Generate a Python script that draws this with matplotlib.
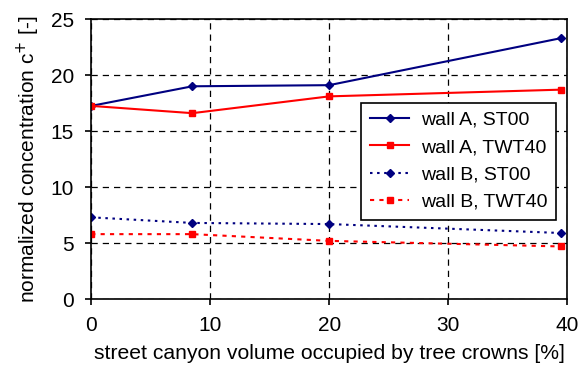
import matplotlib
matplotlib.use("Agg")
import matplotlib.pyplot as plt

plt.rcParams['font.family'] = ['Liberation Sans', 'DejaVu Sans']

# tree crown volume share [%]
x = [0, 8.5, 20, 39.5]
wallA_st00 = [17.25, 19.0, 19.1, 23.3]
wallA_twt40 = [17.25, 16.6, 18.1, 18.7]
wallB_st00 = [7.3, 6.8, 6.7, 5.9]
wallB_twt40 = [5.8, 5.8, 5.2, 4.7]

navy = "#000080"
red = "#ff0000"

fig = plt.figure(figsize=(5.81, 3.67), dpi=100)
ax = fig.add_axes([0.157, 0.185, 0.819, 0.763])

ax.plot(x, wallA_st00, color=navy, lw=1.5, marker="D", ms=4, label="wall A, ST00")
ax.plot(x, wallA_twt40, color=red, lw=1.5, marker="s", ms=4, label="wall A, TWT40")
ax.plot(x, wallB_st00, color=navy, lw=1.5, ls=(0, (1.2, 2.2)), marker="D", ms=4,
        label="wall B, ST00")
ax.plot(x, wallB_twt40, color=red, lw=1.5, ls=(0, (2, 2.5)), marker="s", ms=4,
        label="wall B, TWT40")

ax.set_xlim(0, 40)
ax.set_ylim(0, 25)
ax.set_xticks([0, 10, 20, 30, 40])
ax.set_yticks([0, 5, 10, 15, 20, 25])
ax.grid(True, color="black", ls=(0, (5, 4)), lw=0.9)
ax.set_axisbelow(True)
for s in ax.spines.values():
    s.set_linewidth(1.2)
ax.tick_params(direction="out", length=4.5, width=1.2, labelsize=15, pad=8)

ax.set_xlabel("street canyon volume occupied by tree crowns [%]", fontsize=15.2, labelpad=6)
ax.set_ylabel("normalized concentration c$^{+}$ [-]", fontsize=15, labelpad=6)

leg = ax.legend(loc="upper left", bbox_to_anchor=(0.568, 0.702), fontsize=14,
                fancybox=False, framealpha=1, edgecolor="black", handlelength=2.0,
                numpoints=1, borderpad=0.45, labelspacing=0.5, handletextpad=0.6,
                borderaxespad=0)
leg.get_frame().set_linewidth(1.2)

fig.savefig("out.png", dpi=100)
